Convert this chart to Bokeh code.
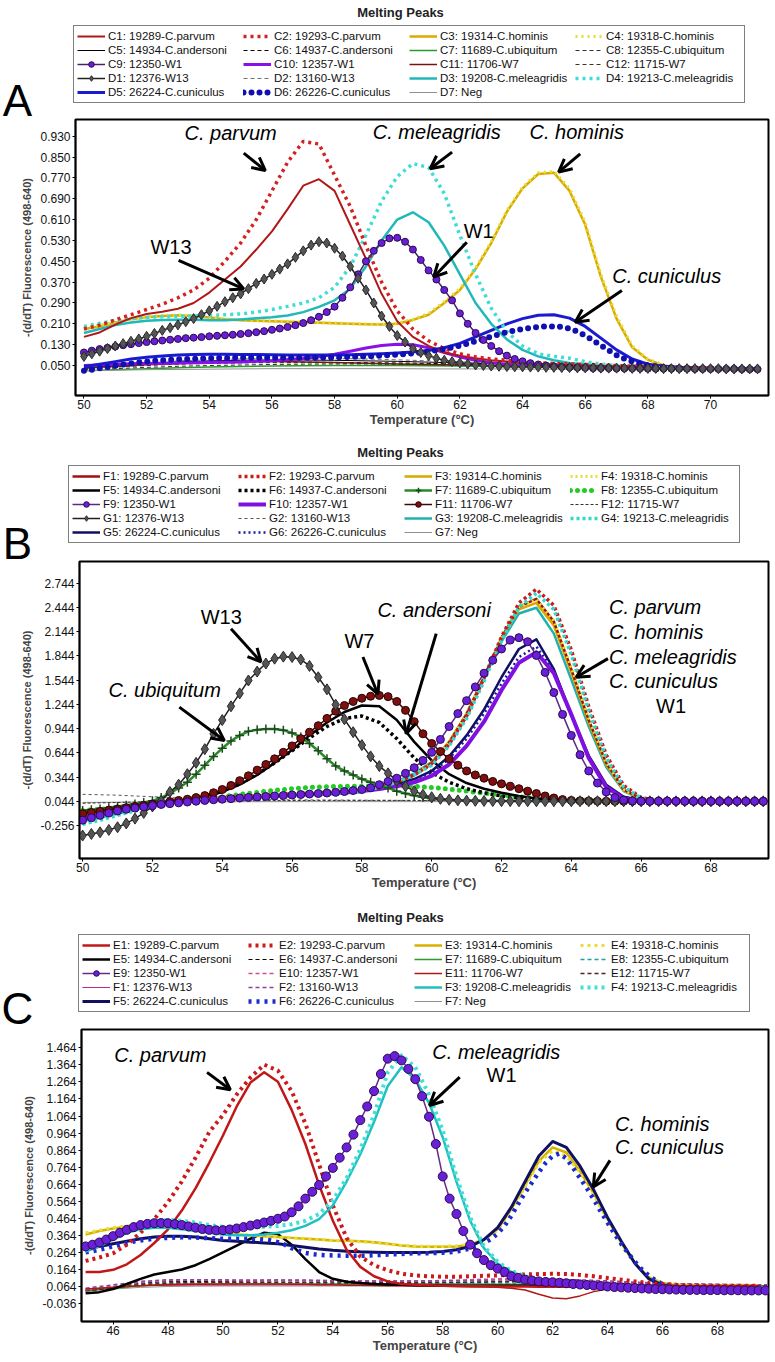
from bokeh.plotting import figure
from bokeh.models import (ColumnDataSource, Legend, LegendItem, Label, Arrow, OpenHead,
                          FixedTicker, PrintfTickFormatter, Range1d)
from bokeh.embed import file_html
from bokeh.resources import INLINE

SANS = "Liberation Sans"
W = 775

# ======================= PANEL A data =======================
A_TQ = [round(50 + 0.25 * i, 2) for i in range(87)]      # 50.0 .. 71.5
A_TH = [round(50 + 0.5 * i, 1) for i in range(44)]       # 50.0 .. 71.5
A_TB = [50, 51, 52, 53, 54, 55, 56, 57, 58, 59, 60, 61, 62, 63, 64, 65, 66, 67, 68, 69, 70, 71, 71.5]

A_C1 = [.16, .177, .207, .232, .248, .256, .268, .29, .33, .38,
        .43, .495, .565, .65, .74, .765, .72, .59, .46, .325,
        .22, .16, .125, .10, .088, .078, .07, .065, .06, .057,
        .054, .052, .05, .048, .046, .044, .042, .04, .039, .038,
        .037, .036, .036, .035]
A_C2 = [.19, .205, .225, .245, .265, .285, .31, .34, .385, .45,
        .52, .61, .72, .83, .91, .90, .78, .66, .51, .37,
        .26, .19, .145, .115, .095, .083, .075, .07, .065, .06,
        .058, .056, .054, .052, .05, .048, .046, .044, .042, .04,
        .039, .038, .037, .036]
A_C3 = [.19, .20, .215, .228, .235, .24, .243, .24, .234, .228,
        .224, .222, .22, .218, .216, .214, .212, .21, .208, .207,
        .21, .225, .245, .29, .34, .42, .52, .64, .73, .785,
        .79, .72, .59, .39, .23, .12, .072, .05, .042, .04,
        .038, .037, .036, .036]
A_C4 = [.195, .205, .218, .23, .237, .242, .244, .241, .235, .229,
        .225, .223, .221, .219, .217, .215, .213, .211, .209, .208,
        .212, .227, .25, .295, .345, .425, .525, .645, .735, .79,
        .795, .73, .60, .40, .24, .125, .075, .052, .043, .04,
        .038, .037, .036, .036]
A_C5 = [.04, .05, .058, .064, .068, .07, .071, .071, .07, .068, .066, .063, .06, .057, .054, .051,
        .048, .045, .043, .041, .04, .039, .039]
A_C6 = [.035, .045, .052, .057, .06, .062, .063, .063, .062, .061, .06, .058, .056, .054, .052, .05,
        .048, .046, .044, .042, .041, .04, .04]
A_C7 = [.03, .034, .038, .041, .044, .046, .048, .049, .05, .05, .05, .049, .048, .046, .045, .043,
        .042, .041, .04, .039, .038, .038, .037]
A_C8 = [.033, .038, .043, .047, .05, .052, .054, .055, .056, .056, .055, .054, .052, .05, .048, .046,
        .045, .043, .042, .041, .04, .039, .039]
A_C9 = [.10, .107, .113, .118, .123, .128, .132, .136, .14, .143, .146, .149, .152, .155, .157, .159, .162, .164, .166, .168,
        .171, .174, .178, .182, .187, .192, .198, .205, .213, .224, .237, .255, .276, .31, .35, .40, .45, .49, .52, .538,
        .54, .525, .495, .455, .415, .38, .34, .30, .25, .21, .175, .148, .125, .105, .088, .075, .066, .059, .054, .05,
        .047, .045, .043, .042, .041, .04, .04, .04, .039, .039, .039, .039, .038, .038, .038, .038, .038, .038, .037, .037,
        .037, .037, .037, .037, .036, .036, .036]
A_C10 = [.05, .052, .055, .057, .058, .059, .06, .061, .062, .063,
         .064, .066, .068, .072, .077, .084, .093, .105, .117, .127,
         .132, .13, .118, .10, .083, .07, .061, .055, .051, .048,
         .046, .045, .044, .043, .042, .041, .04, .039, .039, .038,
         .038, .037, .037, .037]
A_C11 = [.04, .047, .053, .058, .062, .064, .065, .064, .062, .059, .056, .054, .052, .05, .048, .047,
         .046, .044, .042, .041, .04, .039, .039]
A_C12 = [.038, .044, .05, .055, .058, .06, .061, .061, .06, .058, .056, .054, .052, .05, .049, .047,
         .045, .044, .042, .041, .04, .039, .039]
A_D1 = [.085, .095, .105, .115, .125, .134, .143, .152, .162, .173, .185, .195, .206, .218, .23, .245, .26, .277, .295, .31,
        .325, .345, .365, .382, .40, .42, .44, .465, .49, .512, .525, .52, .50, .47, .43, .385, .34, .29, .24, .20,
        .165, .14, .115, .10, .088, .078, .07, .065, .06, .056, .052, .05, .048, .047, .046, .045, .045, .044, .044, .043,
        .043, .042, .042, .041, .041, .041, .04, .04, .04, .04, .039, .039, .039, .039, .038, .038, .038, .038, .038, .038,
        .038, .038, .037, .037, .037, .037, .037]
A_D2 = [.045, .055, .062, .068, .072, .075, .077, .078, .077, .075, .072, .068, .064, .06, .056, .053,
        .05, .047, .045, .043, .041, .04, .04]
A_D3 = [.175, .19, .205, .215, .222, .225, .226, .226, .224, .224,
        .227, .231, .235, .242, .255, .275, .30, .345, .43, .53,
        .61, .638, .60, .51, .40, .29, .21, .15, .11, .085,
        .07, .06, .054, .05, .047, .045, .043, .041, .04, .039,
        .038, .038, .037, .037]
A_D4 = [.20, .212, .222, .23, .235, .237, .238, .24, .242, .245,
        .248, .255, .265, .277, .29, .31, .35, .43, .55, .68,
        .775, .825, .81, .71, .55, .40, .27, .18, .125, .095,
        .085, .078, .065, .055, .05, .046, .043, .041, .04, .039,
        .038, .038, .037, .037]
A_D5 = [.045, .055, .065, .075, .082, .087, .09, .092, .093, .093,
        .092, .092, .091, .09, .09, .09, .09, .091, .093, .095,
        .098, .102, .108, .118, .135, .16, .185, .21, .23, .243,
        .245, .232, .20, .155, .11, .075, .055, .047, .043, .041,
        .04, .039, .038, .038]
A_D6 = [.03, .034, .039, .044, .049, .054, .058, .062, .065, .068, .07, .072, .074, .075, .076, .077, .078, .079, .079, .08,
        .08, .08, .08, .08, .08, .08, .08, .08, .08, .08, .08, .081, .081, .082, .083, .084, .085, .086, .088, .09,
        .092, .094, .097, .10, .104, .108, .113, .119, .126, .134, .143, .152, .161, .17, .178, .185, .19, .195, .198, .20,
        .20, .198, .192, .18, .165, .147, .127, .108, .09, .076, .065, .057, .051, .047, .044, .042, .04, .039, .039, .038,
        .038, .038, .037, .037, .037, .036, .036]
A_D7 = [.03, .032, .034, .035, .036, .037, .038, .038, .038, .038, .038, .037, .037, .037, .036, .036,
        .036, .036, .035, .035, .035, .035, .035]

# ======================= PANEL B data =======================
B_TQ = [round(50 + 0.25 * i, 2) for i in range(79)]      # 50.0 .. 69.5
B_TH = [round(50 + 0.5 * i, 1) for i in range(40)]       # 50.0 .. 69.5
B_TB = [50, 51, 52, 53, 54, 55, 56, 57, 58, 59, 60, 61, 62, 63, 64, 65, 66, 67, 68, 69, 69.6]

B_F1 = [-.10, -.07, -.04, -.01, .02, .045, .065, .08, .09, .10,
        .11, .12, .13, .14, .15, .165, .185, .22, .28, .37,
        .52, .77, 1.12, 1.58, 2.07, 2.45, 2.55, 2.27, 1.68, 1.05,
        .52, .19, .08, .052, .047, .045, .044, .044, .044, .044]
B_F2 = [-.09, -.06, -.03, 0.0, .025, .05, .07, .085, .095, .105,
        .115, .125, .135, .145, .155, .17, .19, .225, .285, .37,
        .51, .75, 1.10, 1.57, 2.08, 2.50, 2.67, 2.47, 1.92, 1.22,
        .62, .24, .09, .055, .048, .046, .045, .044, .044, .044]
B_F3 = [-.12, -.09, -.055, -.02, .01, .04, .06, .075, .088, .098,
        .108, .118, .128, .138, .15, .165, .185, .22, .28, .37,
        .52, .78, 1.13, 1.58, 2.06, 2.42, 2.50, 2.22, 1.64, 1.02,
        .50, .18, .075, .05, .046, .045, .044, .044, .044, .044]
B_F4 = [-.11, -.085, -.05, -.015, .015, .042, .062, .077, .09, .10,
        .11, .12, .13, .14, .152, .167, .187, .222, .282, .372,
        .52, .77, 1.12, 1.59, 2.08, 2.45, 2.54, 2.28, 1.70, 1.07,
        .53, .19, .078, .051, .046, .045, .044, .044, .044, .044]
B_F5 = [-.12, -.09, -.06, -.03, 0.0, .03, .06, .10, .16, .25,
        .37, .52, .68, .86, 1.02, 1.15, 1.23, 1.22, 1.05, .78,
        .55, .38, .27, .20, .15, .11, .08, .065, .055, .05,
        .048, .047, .046, .045, .045, .044, .044, .044, .044, .044]
B_F6 = [-.10, -.08, -.05, -.02, .01, .04, .07, .11, .17, .26,
        .38, .52, .67, .83, .97, 1.07, 1.10, 1.02, .82, .58,
        .40, .28, .20, .15, .11, .085, .07, .06, .052, .048,
        .046, .045, .044, .044, .044, .044, .044, .044, .044, .044]
B_F7 = [-.07, -.06, -.05, -.035, -.02, -.005, .012, .03, .05, .09, .14, .21, .28, .38, .49, .60, .70, .79, .86, .91,
        .93, .94, .94, .925, .89, .84, .76, .67, .57, .48, .42, .37, .32, .28, .24, .21, .17, .14, .115, .095,
        .08, .07, .063, .058, .055, .053, .051, .05, .049, .048, .047, .047, .046, .046, .046, .045, .045, .045, .045, .045,
        .045, .045, .045, .045, .045, .045, .045, .044, .044, .044, .044, .044, .044, .044, .044, .044, .044, .044, .044]
B_F8 = [-.07, -.055, -.035, -.01, .015, .035, .055, .075, .10, .13,
        .155, .18, .20, .215, .225, .23, .232, .235, .235, .23,
        .215, .195, .17, .145, .12, .10, .085, .072, .062, .055,
        .05, .048, .046, .045, .044, .044, .044, .044, .044, .044]
B_F9 = [-.19, -.16, -.13, -.10, -.075, -.055, -.04, -.025, -.01, .005, .015, .025, .035, .045, .055, .063, .07, .077, .085, .092,
        .098, .104, .11, .116, .122, .128, .134, .14, .147, .155, .165, .177, .19, .21, .25, .29, .33, .39, .46, .55,
        .65, .81, .97, 1.13, 1.29, 1.46, 1.63, 1.79, 1.93, 2.04, 2.07, 2.02, 1.85, 1.64, 1.39, 1.12, .86, .62, .42, .27,
        .16, .09, .06, .05, .046, .045, .045, .045, .045, .045, .044, .044, .044, .044, .044, .044, .044, .044, .044]
B_F10 = [-.14, -.11, -.075, -.04, -.005, .025, .05, .068, .082, .092,
         .10, .11, .12, .13, .14, .152, .17, .195, .23, .28,
         .36, .50, .73, 1.03, 1.42, 1.76, 1.89, 1.63, 1.12, .58,
         .22, .08, .05, .045, .044, .044, .044, .044, .044, .044]
B_F11 = [-.11, -.095, -.08, -.065, -.05, -.035, -.02, -.005, .01, .025, .04, .055, .07, .09, .115, .15, .19, .24, .30, .36,
         .43, .50, .57, .65, .73, .82, .90, .98, 1.07, 1.16, 1.23, 1.28, 1.32, 1.345, 1.355, 1.34, 1.28, 1.17, 1.03, .88,
         .76, .66, .57, .49, .42, .37, .33, .29, .26, .23, .20, .17, .14, .11, .085, .065, .055, .05, .048, .046,
         .045, .045, .045, .045, .045, .045, .045, .045, .044, .044, .044, .044, .044, .044, .044, .044, .044, .044, .044]
B_F12 = [.02, .03, .04, .045, .05, .052, .054, .055, .055, .055, .054, .052, .05, .048, .047, .046,
         .045, .045, .044, .044, .044]
B_G1 = [-.38, -.36, -.34, -.31, -.277, -.23, -.17, -.10, -.02, .05, .16, .25, .38, .52, .69, .88, 1.05, 1.22, 1.38, 1.54,
        1.65, 1.75, 1.81, 1.835, 1.83, 1.80, 1.72, 1.58, 1.43, 1.24, 1.06, .90, .74, .60, .48, .39, .30, .23, .17, .125,
        .095, .075, .063, .056, .052, .05, .048, .047, .046, .046, .045, .045, .045, .045, .045, .045, .045, .045, .045, .045,
        .045, .045, .044, .044, .044, .044, .044, .044, .044, .044, .044, .044, .044, .044, .044, .044, .044, .044, .044]
B_G2 = [.13, .12, .10, .08, .07, .065, .062, .06, .058, .056, .054, .052, .05, .049, .048, .047,
        .046, .046, .045, .045, .045]
B_G3 = [-.20, -.16, -.11, -.06, -.02, .02, .05, .07, .085, .095,
        .105, .115, .125, .135, .145, .16, .18, .22, .29, .39,
        .53, .78, 1.13, 1.57, 2.02, 2.37, 2.44, 2.12, 1.55, .97,
        .47, .17, .072, .05, .046, .045, .044, .044, .044, .044]
B_G4 = [-.24, -.19, -.13, -.075, -.03, .01, .045, .065, .08, .09,
        .10, .11, .12, .13, .14, .155, .175, .215, .28, .37,
        .49, .73, 1.07, 1.53, 2.03, 2.45, 2.62, 2.42, 1.86, 1.17,
        .58, .22, .085, .052, .046, .045, .044, .044, .044, .044]
B_G5 = [-.15, -.12, -.085, -.05, -.015, .02, .05, .07, .085, .095,
        .105, .115, .125, .135, .145, .16, .18, .21, .26, .32,
        .42, .60, .86, 1.18, 1.58, 1.93, 2.05, 1.68, 1.12, .61,
        .25, .10, .058, .047, .045, .044, .044, .044, .044, .044]
B_G6 = [-.16, -.13, -.095, -.06, -.025, .01, .04, .06, .075, .085,
        .095, .105, .115, .125, .135, .15, .17, .20, .245, .305,
        .40, .57, .82, 1.13, 1.50, 1.83, 1.96, 1.66, 1.10, .58,
        .24, .10, .057, .047, .045, .044, .044, .044, .044, .044]
B_G7 = [.03, .033, .035, .037, .038, .039, .04, .04, .04, .04, .04, .04, .04, .04, .04, .04,
        .04, .04, .04, .04, .04]

# ======================= PANEL C data =======================
C_TQ = [round(45 + 0.25 * i, 2) for i in range(100)]     # 45.0 .. 69.75
C_TH = [round(45 + 0.5 * i, 1) for i in range(50)]       # 45.0 .. 69.5
C_TB = [45, 46, 47, 48, 49, 50, 51, 52, 53, 54, 55, 56, 57, 58, 59, 60, 61, 62, 63, 64, 65, 66, 67, 68, 69, 69.8]

C_E1 = [.15, .15, .163, .195, .25, .32, .40, .51, .64, .79,
        .95, 1.12, 1.26, 1.32, 1.265, 1.10, .90, .66, .45, .28,
        .18, .125, .095, .08, .075, .072, .07, .068, .067, .066,
        .065, .065, .065, .064, .064, .064, .064, .064, .064, .065,
        .066, .067, .068, .068, .068, .068, .068, .068, .068, .068]
C_E2 = [.215, .235, .26, .31, .38, .46, .56, .68, .82, .97,
        1.07, 1.19, 1.29, 1.365, 1.33, 1.21, 1.02, .78, .54, .35,
        .24, .19, .16, .14, .13, .125, .122, .122, .125, .128,
        .13, .133, .136, .138, .14, .138, .133, .125, .115, .105,
        .095, .085, .08, .075, .072, .07, .07, .07, .07, .07]
C_E3 = [.37, .39, .405, .415, .42, .42, .415, .405, .395, .385,
        .375, .37, .365, .36, .355, .35, .345, .34, .335, .333,
        .33, .325, .315, .305, .30, .298, .298, .30, .31, .34,
        .40, .52, .66, .80, .88, .85, .74, .61, .46, .32,
        .20, .12, .085, .075, .072, .07, .07, .07, .07, .07]
C_E4 = [.38, .395, .41, .42, .425, .425, .42, .41, .40, .39,
        .38, .372, .366, .36, .355, .35, .345, .34, .335, .332,
        .328, .322, .314, .306, .302, .30, .30, .303, .312, .34,
        .395, .51, .65, .79, .86, .83, .73, .60, .455, .315,
        .20, .12, .085, .075, .072, .07, .07, .07, .07, .07]
C_E5 = [.025, .032, .05, .08, .11, .135, .15, .165, .19, .225,
        .265, .305, .345, .38, .372, .31, .225, .15, .11, .093,
        .085, .08, .077, .075, .073, .072, .071, .07, .07, .07,
        .07, .07, .07, .069, .069, .068, .068, .067, .067, .066,
        .066, .065, .065, .065, .065, .064, .064, .064, .064, .064]
C_E6 = [.04, .06, .085, .095, .095, .095, .098, .10, .098, .095, .092, .09, .09, .09, .09, .092,
        .093, .093, .09, .085, .08, .077, .075, .074, .073, .073]
C_E7 = [.04, .055, .07, .078, .08, .08, .08, .08, .08, .08, .08, .08, .08, .08, .08, .079,
        .078, .077, .076, .075, .074, .073, .072, .071, .07, .07]
C_E8 = [.05, .065, .08, .088, .09, .09, .09, .09, .088, .086, .085, .084, .083, .082, .082, .082,
        .082, .082, .081, .08, .079, .078, .077, .076, .075, .075]
C_E9 = [.30, .31, .323, .34, .36, .38, .397, .413, .425, .432, .436, .437, .436, .431, .425, .417, .41, .402, .397, .394,
        .395, .399, .405, .413, .422, .43, .44, .45, .462, .475, .50, .535, .58, .62, .66, .71, .76, .82, .88, .955,
        1.04, 1.12, 1.21, 1.31, 1.40, 1.415, 1.39, 1.34, 1.28, 1.18, 1.06, .90, .71, .58, .49, .39, .31, .26, .22, .19,
        .17, .15, .125, .115, .105, .10, .095, .092, .09, .087, .084, .08, .077, .074, .071, .068, .065, .062, .06, .058,
        .056, .054, .052, .05, .049, .048, .047, .046, .045, .045, .044, .044, .044, .043, .043, .043, .042, .042, .042, .042]
C_E10 = [.045, .065, .09, .10, .102, .10, .10, .102, .10, .098, .097, .097, .098, .10, .105, .11,
         .11, .108, .10, .092, .085, .08, .077, .076, .075, .075]
C_E11 = [.05, .055, .06, .065, .07, .073, .075, .077, .078, .079,
         .08, .08, .08, .08, .08, .079, .078, .076, .075, .073,
         .072, .071, .07, .069, .068, .067, .066, .065, .064, .062,
         .06, .055, .045, .02, -.002, -.007, .01, .035, .05, .058,
         .062, .064, .065, .065, .065, .065, .065, .065, .065, .065]
C_E12 = [.04, .055, .075, .085, .088, .09, .09, .09, .088, .086, .085, .085, .086, .088, .09, .093,
         .095, .096, .094, .09, .085, .08, .077, .075, .074, .074]
C_F1 = [.05, .06, .07, .072, .073, .073, .074, .074, .074, .074, .074, .074, .074, .074, .074, .074,
        .073, .072, .071, .07, .07, .07, .07, .07, .07, .07]
C_F2 = [.055, .075, .095, .105, .105, .104, .103, .104, .103, .10, .098, .097, .097, .098, .10, .103,
        .105, .106, .104, .098, .09, .085, .08, .078, .076, .076]
C_F3 = [.27, .30, .34, .38, .40, .41, .41, .40, .39, .38,
        .37, .365, .365, .37, .38, .395, .42, .46, .54, .68,
        .84, 1.03, 1.24, 1.35, 1.28, 1.14, .94, .68, .45, .29,
        .20, .15, .12, .10, .09, .08, .072, .066, .062, .058,
        .055, .052, .05, .048, .047, .046, .045, .045, .044, .044]
C_F4 = [.29, .32, .36, .40, .43, .45, .455, .45, .44, .425,
        .415, .41, .41, .415, .42, .43, .45, .49, .57, .70,
        .87, 1.07, 1.32, 1.42, 1.35, 1.19, .98, .71, .47, .30,
        .21, .155, .125, .105, .09, .08, .072, .066, .062, .058,
        .055, .052, .05, .048, .047, .046, .045, .045, .044, .044]
C_F5 = [.29, .30, .315, .33, .345, .355, .36, .36, .355, .345,
        .335, .33, .325, .32, .315, .305, .295, .285, .277, .272,
        .268, .266, .265, .265, .265, .266, .27, .28, .30, .34,
        .41, .53, .68, .83, .915, .88, .77, .63, .47, .33,
        .20, .11, .075, .065, .062, .06, .06, .06, .06, .06]
C_F6 = [.265, .272, .28, .29, .30, .31, .32, .328, .335, .34, .345, .348, .35, .352, .353, .353, .352, .35, .348, .346,
        .345, .345, .345, .345, .345, .343, .34, .335, .325, .31, .29, .275, .262, .255, .25, .248, .247, .246, .245, .245,
        .245, .246, .248, .25, .252, .254, .256, .258, .26, .26, .26, .261, .263, .266, .27, .278, .288, .30, .318, .342,
        .375, .42, .48, .55, .615, .675, .735, .79, .83, .845, .815, .76, .70, .64, .575, .505, .44, .375, .315, .26,
        .21, .165, .13, .10, .08, .068, .06, .055, .052, .05, .048, .047, .046, .045, .045, .044, .044, .043, .043, .043]
C_F7 = [.04, .05, .06, .065, .067, .068, .068, .068, .068, .068, .068, .068, .068, .068, .068, .068,
        .068, .068, .068, .068, .068, .068, .068, .068, .068, .068]

# tick values
A_XT = [50, 52, 54, 56, 58, 60, 62, 64, 66, 68, 70]
A_YT = [0.050, 0.130, 0.210, 0.290, 0.370, 0.450, 0.530, 0.610, 0.690, 0.770, 0.850, 0.930]
B_XT = [50, 52, 54, 56, 58, 60, 62, 64, 66, 68]
B_YT = [-0.256, 0.044, 0.344, 0.644, 0.944, 1.244, 1.544, 1.844, 2.144, 2.444, 2.744]
C_XT = [46, 48, 50, 52, 54, 56, 58, 60, 62, 64, 66, 68]
C_YT = [-0.036, 0.064, 0.164, 0.264, 0.364, 0.464, 0.564, 0.664, 0.764, 0.864, 0.964,
        1.064, 1.164, 1.264, 1.364, 1.464]


# ======================= styles =======================
def L(c, w, dash="solid", cap="butt"):
    return dict(c=c, lw=w, dash=dash, cap=cap)


def M(c, w, m, ms, mf, ml, mlw=1.0):
    return dict(c=c, lw=w, m=m, ms=ms, mf=mf, ml=ml, mlw=mlw)


A_SERIES = [
    ("C1: 19289-C.parvum", A_TH, A_C1, L("#b01818", 2)),
    ("C2: 19293-C.parvum", A_TH, A_C2, L("#d42020", 3.5, "3 4")),
    ("C3: 19314-C.hominis", A_TH, A_C3, L("#dcaa00", 2.5)),
    ("C4: 19318-C.hominis", A_TH, A_C4, L("#e4e030", 3, "2 4")),
    ("C5: 14934-C.andersoni", A_TB, A_C5, L("#000000", 1)),
    ("C6: 14937-C.andersoni", A_TB, A_C6, L("#000000", 1, "4 3")),
    ("C7: 11689-C.ubiquitum", A_TB, A_C7, L("#2a9a2a", 1.5)),
    ("C8: 12355-C.ubiquitum", A_TB, A_C8, L("#303030", 1, "4 3")),
    ("C9: 12350-W1", A_TQ, A_C9, M("#4a2070", 1.5, "circle", 7, "#6a1fd6", "#2a0a50")),
    ("C10: 12357-W1", A_TH, A_C10, L("#8a10e8", 3)),
    ("C11: 11706-W7", A_TB, A_C11, L("#7a1010", 1.5)),
    ("C12: 11715-W7", A_TB, A_C12, L("#4a3020", 1, "4 3")),
    ("D1: 12376-W13", A_TQ, A_D1, M("#202020", 1.5, "diamond", 10, "#555555", "#2a2a2a")),
    ("D2: 13160-W13", A_TB, A_D2, L("#707070", 1, "4 3")),
    ("D3: 19208-C.meleagridis", A_TH, A_D3, L("#20b8b8", 2.5)),
    ("D4: 19213-C.meleagridis", A_TH, A_D4, L("#40dcd8", 3.5, "3 4")),
    ("D5: 26224-C.cuniculus", A_TH, A_D5, L("#1a1ad0", 3)),
    ("D6: 26226-C.cuniculus", A_TQ, A_D6, L("#1010b0", 6, "0 8", "round")),
    ("D7: Neg", A_TB, A_D7, L("#909090", 1)),
]
A_ORDER = [4, 5, 6, 7, 10, 11, 13, 18, 9, 2, 3, 16, 14, 15, 0, 1, 17, 8, 12]

B_SERIES = [
    ("F1: 19289-C.parvum", B_TH, B_F1, L("#a01010", 2.5)),
    ("F2: 19293-C.parvum", B_TH, B_F2, L("#cc1a1a", 3.5, "3 3")),
    ("F3: 19314-C.hominis", B_TH, B_F3, L("#d8a800", 2.5)),
    ("F4: 19318-C.hominis", B_TH, B_F4, L("#e8e030", 3, "2 3")),
    ("F5: 14934-C.andersoni", B_TH, B_F5, L("#000000", 2.5)),
    ("F6: 14937-C.andersoni", B_TH, B_F6, L("#000000", 3.5, "3 3")),
    ("F7: 11689-C.ubiquitum", B_TQ, B_F7, M("#2a8a2a", 2.5, "cross", 9, "#1d4a1d", "#1d4a1d", 1.5)),
    ("F8: 12355-C.ubiquitum", B_TH, B_F8, L("#22cc22", 5, "0 7", "round")),
    ("F9: 12350-W1", B_TQ, B_F9, M("#5a2a8a", 1.5, "circle", 8, "#6a20d8", "#2a0a50")),
    ("F10: 12357-W1", B_TH, B_F10, L("#8010e0", 4)),
    ("F11: 11706-W7", B_TQ, B_F11, M("#3a0808", 1.5, "circle", 8, "#7a1010", "#300000")),
    ("F12: 11715-W7", B_TB, B_F12, L("#333333", 1, "3 2")),
    ("G1: 12376-W13", B_TQ, B_G1, M("#202020", 1.5, "diamond", 11, "#555555", "#2a2a2a")),
    ("G2: 13160-W13", B_TB, B_G2, L("#555555", 1, "3 3")),
    ("G3: 19208-C.meleagridis", B_TH, B_G3, L("#20b0b0", 2.5)),
    ("G4: 19213-C.meleagridis", B_TH, B_G4, L("#30d8d0", 3.5, "3 3")),
    ("G5: 26224-C.cuniculus", B_TH, B_G5, L("#101060", 2.5)),
    ("G6: 26226-C.cuniculus", B_TH, B_G6, L("#1a1aa0", 2.5, "2 3")),
    ("G7: Neg", B_TB, B_G7, L("#909090", 1)),
]
B_ORDER = [18, 13, 11, 7, 4, 5, 16, 17, 9, 14, 2, 0, 3, 1, 15, 6, 10, 12, 8]

C_SERIES = [
    ("E1: 19289-C.parvum", C_TH, C_E1, L("#c01818", 2.5)),
    ("E2: 19293-C.parvum", C_TH, C_E2, L("#cc1a1a", 4, "3 4")),
    ("E3: 19314-C.hominis", C_TH, C_E3, L("#d8b000", 2.5)),
    ("E4: 19318-C.hominis", C_TH, C_E4, L("#e8e030", 3, "3 4")),
    ("E5: 14934-C.andersoni", C_TH, C_E5, L("#000000", 2.5)),
    ("E6: 14937-C.andersoni", C_TB, C_E6, L("#000000", 1, "4 3")),
    ("E7: 11689-C.ubiquitum", C_TB, C_E7, L("#2a9a2a", 1.5)),
    ("E8: 12355-C.ubiquitum", C_TB, C_E8, L("#20a0a0", 1.5, "4 3")),
    ("E9: 12350-W1", C_TQ, C_E9, M("#6a2a8a", 1.5, "circle", 9, "#6a20d8", "#2a0a50")),
    ("E10: 12357-W1", C_TB, C_E10, L("#cc5090", 1.5, "4 3")),
    ("E11: 11706-W7", C_TH, C_E11, L("#b01818", 1.5)),
    ("E12: 11715-W7", C_TB, C_E12, L("#5a2020", 1.5, "4 3")),
    ("F1: 12376-W13", C_TB, C_F1, L("#c02a80", 1)),
    ("F2: 13160-W13", C_TB, C_F2, L("#9040a0", 1.5, "4 3")),
    ("F3: 19208-C.meleagridis", C_TH, C_F3, L("#20c0c0", 2.5)),
    ("F4: 19213-C.meleagridis", C_TH, C_F4, L("#40e0d8", 4, "3 4")),
    ("F5: 26224-C.cuniculus", C_TH, C_F5, L("#101060", 3)),
    ("F6: 26226-C.cuniculus", C_TQ, C_F6, L("#1a2ad0", 4.5, "3 5")),
    ("F7: Neg", C_TB, C_F7, L("#909090", 1)),
]
C_ORDER = [18, 12, 6, 7, 5, 11, 9, 13, 10, 4, 2, 3, 16, 17, 0, 1, 14, 15, 8]

# in-plot notes: (text, x, y, italic, align)
A_NOTES = [("C. parvum", 54.68, 0.943, True, "center"), ("W13", 52.78, 0.504, False, "center"),
           ("C. meleagridis", 61.26, 0.945, True, "center"), ("C. hominis", 65.73, 0.945, True, "center"),
           ("W1", 62.6, 0.568, False, "center"), ("C. cuniculus", 68.6, 0.395, True, "center")]
A_ARROWS = [(55.1, 0.865, 55.79, 0.798), (53.02, 0.453, 55.1, 0.344), (61.75, 0.869, 61.05, 0.805),
            (65.84, 0.862, 65.15, 0.792), (62.22, 0.523, 61.16, 0.389), (67.17, 0.338, 65.68, 0.216)]
B_NOTES = [("W13", 53.97, 2.32, False, "center"), ("C. ubiquitum", 52.35, 1.416, True, "center"),
           ("W7", 57.93, 2.03, False, "center"), ("C. andersoni", 60.07, 2.41, True, "center"),
           ("C. parvum", 65.08, 2.447, True, "left"), ("C. hominis", 65.08, 2.137, True, "left"),
           ("C. meleagridis", 65.08, 1.828, True, "left"), ("C. cuniculus", 65.08, 1.539, True, "left"),
           ("W1", 66.86, 1.23, False, "center")]
B_ARROWS = [(54.25, 2.18, 55.11, 1.77), (52.77, 1.21, 54.06, 0.796), (58.03, 1.83, 58.46, 1.37),
            (60.13, 2.12, 59.27, 0.88), (65.05, 1.81, 64.14, 1.58)]
C_NOTES = [("C. parvum", 47.72, 1.419, True, "center"), ("C. meleagridis", 59.95, 1.439, True, "center"),
           ("W1", 60.14, 1.302, False, "center"), ("C. hominis", 64.27, 1.019, True, "left"),
           ("C. cuniculus", 64.27, 0.882, True, "left")]
C_ARROWS = [(49.42, 1.32, 50.27, 1.218), (58.62, 1.292, 57.52, 1.126), (64.09, 0.804, 63.48, 0.648)]


def draw(p, x, y, st, rn=None):
    assert len(x) == len(y), (len(x), len(y))
    src = ColumnDataSource(dict(x=x, y=y))
    kw = {} if rn is None else dict(x_range_name=rn, y_range_name=rn)
    rs = []
    if st.get("lw", 0) > 0:
        rs.append(p.line("x", "y", source=src, line_color=st["c"], line_width=st["lw"],
                         line_dash=st.get("dash", "solid"), line_cap=st.get("cap", "butt"),
                         line_join="round", **kw))
    if "m" in st:
        rs.append(p.scatter("x", "y", source=src, marker=st["m"], size=st["ms"],
                            fill_color=st["mf"], line_color=st["ml"], line_width=st.get("mlw", 1.0), **kw))
    return rs


def make_header(series, hh, title_y, letter, letter_y, legend_xy):
    """Top strip: 'Melting Peaks', boxed 4-column legend and the panel letter."""
    h = figure(width=W, height=hh, output_backend="svg", toolbar_location=None, title=None,
               x_range=Range1d(0, W), y_range=Range1d(0, hh),
               x_axis_location=None, y_axis_location=None, min_border=0)
    h.outline_line_color = None
    h.xgrid.visible = False
    h.ygrid.visible = False
    # legend swatches: the same series on a range lying outside this strip (nothing visible)
    h.extra_x_ranges = {"off": Range1d(1000, 2000)}
    h.extra_y_ranges = {"off": Range1d(1000, 2000)}
    items = []
    for lab, x, y, st in series:
        items.append(LegendItem(label=lab, renderers=draw(h, x, y, st, rn="off")))
    leg = Legend(items=items, location=legend_xy, ncols=4, orientation="horizontal",
                 label_text_font=SANS, label_text_font_size="11.5px", label_text_color="#111111",
                 glyph_width=28, glyph_height=14, label_height=14, label_width=135,
                 label_standoff=3, spacing=0, padding=3, margin=0,
                 border_line_color="black", border_line_width=1.5,
                 background_fill_color="white", background_fill_alpha=1.0)
    h.add_layout(leg)
    h.add_layout(Label(x=400, y=title_y, text="Melting Peaks", text_font=SANS, text_font_style="bold",
                       text_font_size="13px", text_align="center", text_baseline="middle",
                       text_color="#222222"))
    h.add_layout(Label(x=17, y=letter_y, text=letter, text_font=SANS, text_font_size="44px",
                       text_align="center", text_baseline="middle", text_color="black"))
    return h


def make_panel(series, order, notes, arrows, xr, yr, xt, yt, h, bl, bb, pull):
    p = figure(width=W, height=h, output_backend="svg", toolbar_location=None, title=None,
               x_range=Range1d(*xr), y_range=Range1d(*yr))
    p.margin = (-pull, 0, 0, 0)          # slide up under the header strip's letter
    p.border_fill_alpha = 0.0
    p.min_border_left = bl
    p.min_border_right = 7
    p.min_border_top = 2
    p.min_border_bottom = bb
    p.xgrid.visible = False
    p.ygrid.visible = False
    p.outline_line_color = "black"
    p.outline_line_width = 2
    p.background_fill_color = "white"

    xa = p.xaxis[0]
    xa.ticker = FixedTicker(ticks=xt)
    xa.axis_label = "Temperature (\u00b0C)"
    xa.axis_label_text_font = SANS
    xa.axis_label_text_font_style = "bold"
    xa.axis_label_text_font_size = "13px"
    xa.axis_label_standoff = 0
    xa.major_label_text_font = SANS
    xa.major_label_text_font_size = "12px"
    xa.major_label_text_color = "#111111"
    xa.major_label_standoff = 1
    ya = p.yaxis[0]
    ya.ticker = FixedTicker(ticks=yt)
    ya.formatter = PrintfTickFormatter(format="%.3f")
    ya.axis_label = "-(d/dT) Fluorescence (498-640)"
    ya.axis_label_text_font = SANS
    ya.axis_label_text_font_style = "bold"
    ya.axis_label_text_font_size = "11px"
    ya.axis_label_standoff = 4
    ya.major_label_text_font = SANS
    ya.major_label_text_font_size = "12px"
    ya.major_label_text_color = "#111111"
    ya.major_label_standoff = 2
    for ax in (xa, ya):
        ax.axis_line_color = "black"
        ax.axis_line_width = 1.5
        ax.major_tick_out = 3
        ax.major_tick_in = 0
        ax.minor_tick_out = 0
        ax.minor_tick_in = 0
        ax.major_tick_line_color = "black"

    for i in order:
        lab, x, y, st = series[i]
        draw(p, x, y, st)

    for (txt, x, y, it, al) in notes:
        p.add_layout(Label(x=x, y=y, text=txt, text_font=SANS, text_font_size="20px",
                           text_font_style="italic" if it else "normal", text_align=al,
                           text_baseline="middle", text_color="black"))
    for (x0, y0, x1, y1) in arrows:
        p.add_layout(Arrow(end=OpenHead(size=13, line_width=3, line_color="black"),
                           x_start=x0, y_start=y0, x_end=x1, y_end=y1,
                           line_width=3, line_color="black"))
    return p


# panel A: header 0-125, plot 117-430 ; panel B: header 430-568, plot 559-898 ; panel C: header 898-1036, plot 1027-1362
hA = make_header(A_SERIES, 125, 113, "A", 25, (73, 22))
pA = make_panel(A_SERIES, A_ORDER, A_NOTES, A_ARROWS, (49.73, 71.85), (-0.065, 0.994), A_XT, A_YT,
                313, 75, 35, 8)
hB = make_header(B_SERIES, 138, 116, "B", 25, (68, 25))
pB = make_panel(B_SERIES, B_ORDER, B_NOTES, B_ARROWS, (49.91, 69.65), (-0.664, 3.013), B_XT, B_YT,
                339, 79, 40, 9)
hC = make_header(C_SERIES, 138, 119, "C", 28, (78, 24))
pC = make_panel(C_SERIES, C_ORDER, C_NOTES, C_ARROWS, (44.85, 69.86), (-0.140, 1.571), C_XT, C_YT,
                335, 81, 41, 9)

# separate page roots stacked top to bottom (each strip keeps its own frame geometry)
open("out.html", "w").write(file_html([hA, pA, hB, pB, hC, pC], INLINE))
